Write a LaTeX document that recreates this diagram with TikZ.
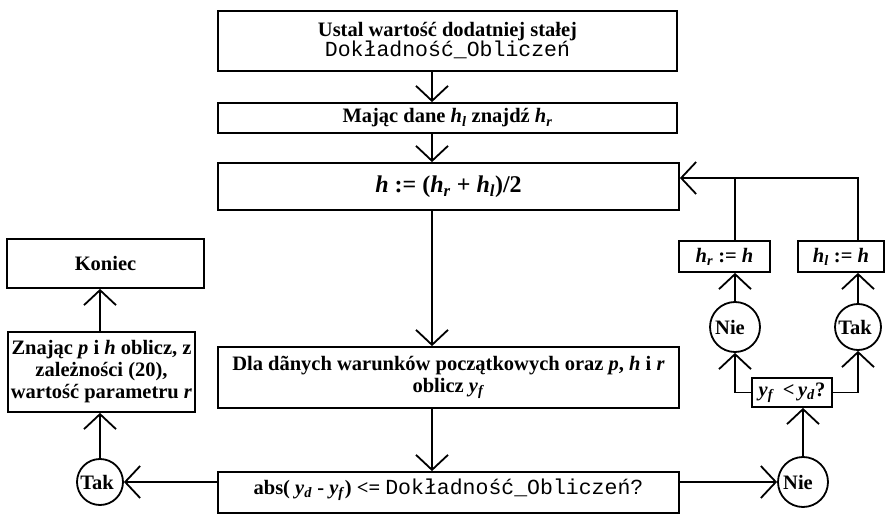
\documentclass[tikz,border=0pt]{standalone}
\usepackage{fontspec}
\setmainfont{Liberation Serif}
\setmonofont{Liberation Mono}
\usetikzlibrary{arrows.meta}
\newcommand\vi[2]{\textit{#1}\textsubscript{\textit{#2}}}
\newcommand\mt[1]{{\fontsize{21.5}{22}\selectfont\ttfamily\mdseries #1}}
\tikzset{
 box/.style={draw, line width=1.8pt, inner sep=1pt, align=center, font=\bfseries\fontsize{20.5}{22}\selectfont},
 circ/.style={draw, circle, line width=1.8pt, inner sep=0pt, font=\bfseries\fontsize{20.5}{22}\selectfont},
 arr/.style={line width=1.8pt, -{Straight Barb[length=15pt,width=32pt]}},
 ln/.style={line width=1.8pt}
}
\begin{document}
\begin{tikzpicture}[x=1pt,y=-1pt]
\useasboundingbox (0,0) rectangle (887,516);
\coordinate (cx) at (432,0);
\coordinate (ly) at (0,178);
% main column
\node[box, minimum width=459pt, minimum height=60pt] (top) at (447.5,41)
  {Ustal wartość dodatniej stałej\\[-2pt]\mt{Dokładność\_Obliczeń}};
\node[box, minimum width=459pt, minimum height=30pt] (mid) at (447.5,118)
  {Mając dane \vi{h}{l} znajdź \vi{h}{r}};
\node[box, minimum width=461pt, minimum height=47pt, font=\bfseries\fontsize{24}{26}\selectfont] (hbox) at (448.5,186.5)
  {\textit{h} := (\vi{h}{r} + \vi{h}{l})/2};
\node[box, minimum width=461pt, minimum height=61pt] (dla) at (448.5,377.5)
  {Dla dãnych warunków początkowych oraz \textit{p}, \textit{h} i \textit{r}\\oblicz \vi{y}{f}};
\node[box, minimum width=461pt, minimum height=41pt, text depth=14pt, text height=17pt] (chk) at (448.5,492.5)
  {abs( \vi{y}{d} - \vi{y}{f}) <= \mt{Dokładność\_Obliczeń?}};
% left column
\node[box, minimum width=197pt, minimum height=49pt] (koniec) at (105.5,263.5) {Koniec};
\node[box, minimum width=187pt, minimum height=80pt, inner xsep=0pt] (znaj) at (101.5,372)
  {Znając \textit{p} i \textit{h} oblicz, z\\zależności (20),\\wartość parametru \textit{r}};
\node[circ, minimum size=46pt] (tak1) at (100,482) {\kern-6pt Tak};
% right part
\node[box, minimum width=91pt, minimum height=31pt] (hr) at (724.5,256.5) {\vi{h}{r} := \textit{h}};
\node[box, minimum width=86pt, minimum height=31pt] (hl) at (841,256.5) {\vi{h}{l} := \textit{h}};
\node[circ, minimum size=50pt] (nie1) at (735,327) {\kern-10pt Nie};
\node[circ, minimum size=46pt] (tak2) at (858,327) {\kern-6pt Tak};
\node[box, minimum width=80pt, minimum height=29pt] (yf) at (792,392.5) {\vi{y}{f} \,<\,\vi{y}{d}?};
\node[circ, minimum size=50pt] (nie2) at (803,482) {\kern-10pt Nie};
% connectors
\draw[arr] (top.south -| cx) -- (mid.north -| cx);
\draw[arr] (mid.south -| cx) -- (hbox.north -| cx);
\draw[arr] (hbox.south -| cx) -- (dla.north -| cx);
\draw[arr] (dla.south -| cx) -- (chk.north -| cx);
\draw[arr] (chk.west |- tak1) -- (tak1);
\draw[arr] (tak1) -- (tak1 |- znaj.south);
\draw[arr] (znaj.north -| tak1) -- (koniec.south -| tak1);
\draw[arr] (chk.east |- nie2) -- (nie2);
\draw[arr] (nie2) -- (nie2 |- yf.south);
\draw[arr] (yf.west) -| (nie1.south);
\draw[arr] (yf.east) -| (tak2.south);
\draw[arr] (nie1) -- (nie1 |- hr.south);
\draw[arr] (tak2) -- (tak2 |- hl.south);
\draw[arr] (tak2 |- hl.north) -- (tak2 |- ly) -- (hbox.east |- ly);
\draw[ln] (nie1 |- hr.north) -- (nie1 |- ly);
\end{tikzpicture}
\end{document}
